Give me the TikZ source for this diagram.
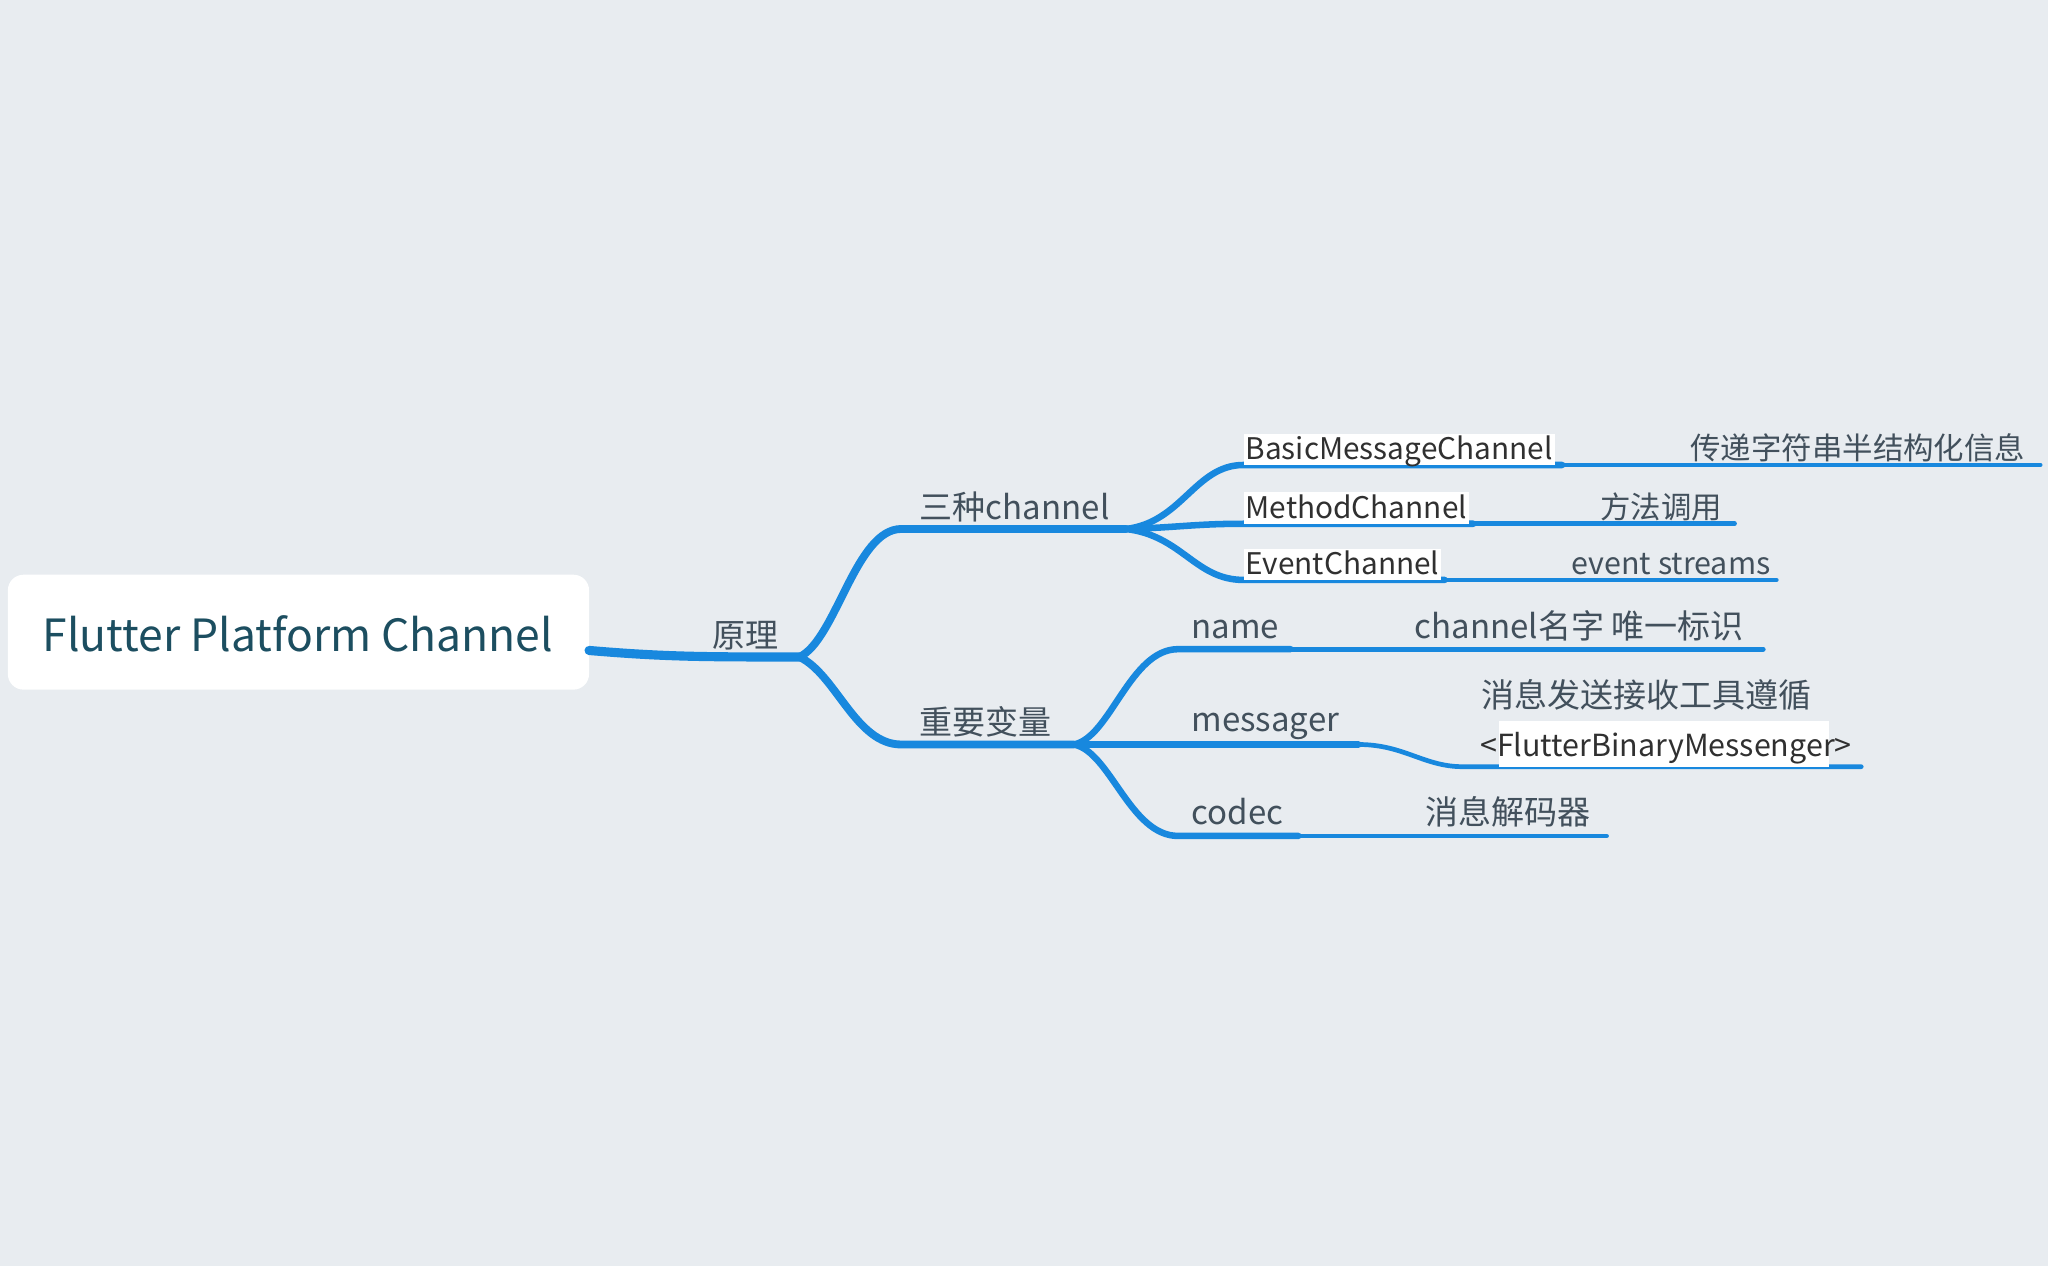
\documentclass[tikz,border=0pt]{standalone}
\usepackage{fontspec}
\setmainfont{Noto Sans CJK SC}
\definecolor{bg}{RGB}{232,236,240}
\definecolor{ln}{RGB}{24,136,222}
\definecolor{lab}{RGB}{66,80,92}
\definecolor{dark}{RGB}{48,48,48}
\definecolor{roottxt}{RGB}{28,78,96}
\tikzset{
  conn/.style={draw=ln,line cap=round,line join=round},
  lv1/.style={conn,line width=7pt},
  lv2/.style={conn,line width=6pt},
  lv3/.style={conn,line width=5pt},
  lv4/.style={conn,line width=3.6pt},
  lab/.style={anchor=base west,inner sep=0pt,text=lab,font=\fontsize{25.3}{28}\selectfont},
  sub/.style={anchor=base west,inner sep=0pt,text=lab,font=\fontsize{23.3}{26}\selectfont},
  boxed/.style={anchor=base west,inner xsep=1.5pt,inner ysep=0pt,text=dark,fill=white,text depth=4pt,text height=20pt,font=\fontsize{22.8}{26}\selectfont},
}
\begin{document}
\begin{tikzpicture}[x=1pt,y=-1pt]
\fill[bg] (0,0) rectangle (1568,969.3);
\useasboundingbox (0,0) rectangle (1568,969.3);
% root
\node[fill=white,rounded corners=12pt,minimum width=445pt,minimum height=88pt,inner sep=0pt] (root) at (228.5,484) {};
\node[text=roottxt,font=\fontsize{34}{38}\selectfont,inner sep=0pt] (roottext) at (228,485) {Flutter Platform Channel};
% coordinates
\coordinate (r0) at (451,498);
\coordinate (b1) at (612,503);
\coordinate (a1) at (690,405);
\coordinate (a2) at (862,405);
\coordinate (c1) at (690,570);
\coordinate (c2) at (822,570);
% level 3 (channels)
\coordinate (m1) at (952,356);
\coordinate (m1e) at (1196,356);
\coordinate (m1f) at (1562,356);
\coordinate (m2) at (952,401);
\coordinate (m2e) at (1128,401);
\coordinate (m2f) at (1328,401);
\coordinate (m3) at (952,444);
\coordinate (m3e) at (1106,444);
\coordinate (m3f) at (1360,444);
% level 3 (variables)
\coordinate (v1) at (902,497);
\coordinate (v1e) at (988,497);
\coordinate (v1f) at (1350,497);
\coordinate (v2e) at (1040,570);
\coordinate (v2g) at (1120,587);
\coordinate (v2f) at (1425,587);
\coordinate (v3) at (902,640);
\coordinate (v3e) at (994,640);
\coordinate (v3f) at (1230,640);
% connectors
\draw[lv1] (r0) .. controls (510,503) and (540,503) .. (b1);
\draw[lv2] (b1) .. controls (640,490) and (655,405) .. (a1) -- (a2);
\draw[lv2] (b1) .. controls (640,516) and (655,570) .. (c1) -- (c2);
\draw[lv3] (a2) .. controls (905,400) and (915,356) .. (m1) -- (m1e);
\draw[lv3] (a2) .. controls (900,404) and (915,401) .. (m2) -- (m2e);
\draw[lv3] (a2) .. controls (905,410) and (915,444) .. (m3) -- (m3e);
\draw[lv4] (m1e) -- (m1f);
\draw[lv4] (m2e) -- (m2f);
\draw[lv4] (m3e) -- (m3f);
\draw[lv3] (c2) .. controls (850,565) and (865,497) .. (v1) -- (v1e);
\draw[lv3] (c2) -- (v2e);
\draw[lv3] (c2) .. controls (850,575) and (865,640) .. (v3) -- (v3e);
\draw[lv4] (v1e) -- (v1f);
\draw[lv4] (v2e) .. controls (1075,570) and (1090,587) .. (v2g) -- (v2f);
\draw[lv4] (v3e) -- (v3f);
% labels
\node[lab] (l1) at (545,496) {原理};
\node[lab] (l2) at (704,398) {三种channel};
\node[lab] (l3) at (704,562) {重要变量};
\node[boxed] (t1) at (952,352) {BasicMessageChannel};
\node[boxed] (t2) at (952,397) {MethodChannel};
\node[boxed] (t3) at (952,440) {EventChannel};
\node[sub] (d1) at (1294,352) {传递字符串半结构化信息};
\node[sub] (d2) at (1225,397) {方法调用};
\node[sub] (d3) at (1203,440) {event streams};
\node[lab] (n1) at (912,489) {name};
\node[lab] (n2) at (912,560) {messager};
\node[lab] (n3) at (912,631) {codec};
\node[lab] (e1) at (1083,489) {channel名字 唯一标识};
\node[lab] (e2a) at (1134,542) {消息发送接收工具遵循};
\fill[white] (1148,552) rectangle (1400,587);
\node[sub,text=dark] (e2b) at (1133,579) {<FlutterBinaryMessenger>};
\node[lab] (e3) at (1091,631) {消息解码器};
\end{tikzpicture}
\end{document}
